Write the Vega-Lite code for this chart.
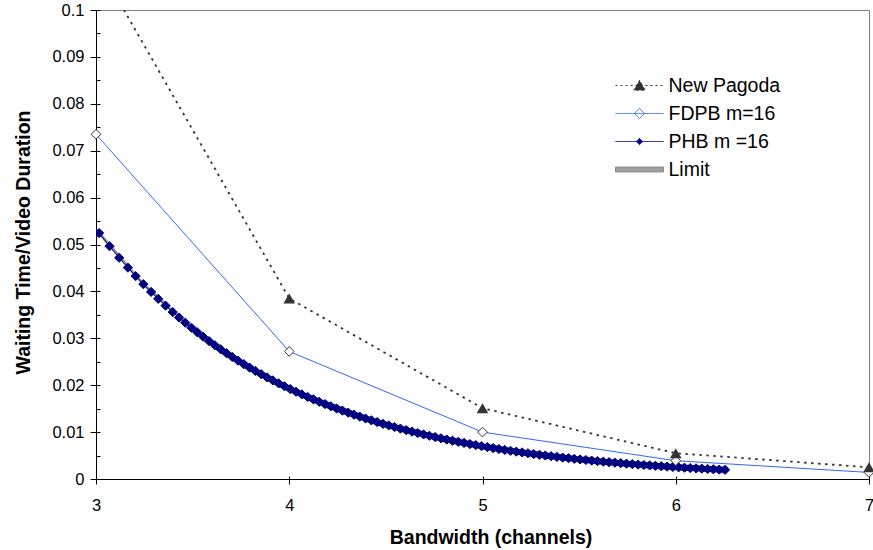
{
  "$schema": "https://vega.github.io/schema/vega-lite/v6.json",
  "width": 773,
  "height": 469,
  "padding": {"left": 96, "top": 10, "right": 4, "bottom": 71},
  "autosize": {"type": "none"},
  "background": "white",
  "config": {
    "view": {"stroke": "#808080", "strokeWidth": 1},
    "font": "Liberation Sans",
    "axis": {"labelFont": "Liberation Sans", "titleFont": "Liberation Sans", "labelColor": "black", "titleColor": "black", "domainColor": "black", "tickColor": "black", "grid": false, "labelFlush": false, "labelOverlap": false}
  },
  "data": {"values": [
    {"series": "FDPB m=16", "x": 3, "y": 0.0735},
    {"series": "FDPB m=16", "x": 4, "y": 0.0272},
    {"series": "FDPB m=16", "x": 5, "y": 0.0100},
    {"series": "FDPB m=16", "x": 6, "y": 0.0039},
    {"series": "FDPB m=16", "x": 7, "y": 0.0014},
    {"series": "New Pagoda", "x": 3, "y": 0.1104},
    {"series": "New Pagoda", "x": 4, "y": 0.0385},
    {"series": "New Pagoda", "x": 5, "y": 0.0151},
    {"series": "New Pagoda", "x": 6, "y": 0.0055},
    {"series": "New Pagoda", "x": 7, "y": 0.0025},
    {"series": "Limit", "x": 3.016, "y": 0.05244},
    {"series": "Limit", "x": 3.245, "y": 0.04154},
    {"series": "Limit", "x": 3.494, "y": 0.03225},
    {"series": "Limit", "x": 3.765, "y": 0.024483},
    {"series": "Limit", "x": 4.005, "y": 0.01918},
    {"series": "Limit", "x": 4.515, "y": 0.011418},
    {"series": "Limit", "x": 5.025, "y": 0.006797},
    {"series": "Limit", "x": 5.505, "y": 0.004173},
    {"series": "Limit", "x": 6.015, "y": 0.002485},
    {"series": "Limit", "x": 6.255, "y": 0.001947},
    {"series": "PHB m =16", "x": 3.016, "y": 0.05244},
    {"series": "PHB m =16", "x": 3.07, "y": 0.04964},
    {"series": "PHB m =16", "x": 3.12, "y": 0.04718},
    {"series": "PHB m =16", "x": 3.165, "y": 0.04507},
    {"series": "PHB m =16", "x": 3.205, "y": 0.04327},
    {"series": "PHB m =16", "x": 3.245, "y": 0.04154},
    {"series": "PHB m =16", "x": 3.285, "y": 0.03989},
    {"series": "PHB m =16", "x": 3.322, "y": 0.03842},
    {"series": "PHB m =16", "x": 3.36, "y": 0.03696},
    {"series": "PHB m =16", "x": 3.397, "y": 0.03559},
    {"series": "PHB m =16", "x": 3.43, "y": 0.03442},
    {"series": "PHB m =16", "x": 3.462, "y": 0.03332},
    {"series": "PHB m =16", "x": 3.494, "y": 0.03225},
    {"series": "PHB m =16", "x": 3.524, "y": 0.03128},
    {"series": "PHB m =16", "x": 3.554, "y": 0.03034},
    {"series": "PHB m =16", "x": 3.585, "y": 0.0294},
    {"series": "PHB m =16", "x": 3.615, "y": 0.028517},
    {"series": "PHB m =16", "x": 3.645, "y": 0.02766},
    {"series": "PHB m =16", "x": 3.675, "y": 0.026829},
    {"series": "PHB m =16", "x": 3.705, "y": 0.026023},
    {"series": "PHB m =16", "x": 3.735, "y": 0.025241},
    {"series": "PHB m =16", "x": 3.765, "y": 0.024483},
    {"series": "PHB m =16", "x": 3.795, "y": 0.023747},
    {"series": "PHB m =16", "x": 3.825, "y": 0.023033},
    {"series": "PHB m =16", "x": 3.855, "y": 0.022341},
    {"series": "PHB m =16", "x": 3.885, "y": 0.02167},
    {"series": "PHB m =16", "x": 3.915, "y": 0.021019},
    {"series": "PHB m =16", "x": 3.945, "y": 0.020387},
    {"series": "PHB m =16", "x": 3.975, "y": 0.019774},
    {"series": "PHB m =16", "x": 4.005, "y": 0.01918},
    {"series": "PHB m =16", "x": 4.035, "y": 0.018604},
    {"series": "PHB m =16", "x": 4.065, "y": 0.018045},
    {"series": "PHB m =16", "x": 4.095, "y": 0.017503},
    {"series": "PHB m =16", "x": 4.125, "y": 0.016977},
    {"series": "PHB m =16", "x": 4.155, "y": 0.016467},
    {"series": "PHB m =16", "x": 4.185, "y": 0.015972},
    {"series": "PHB m =16", "x": 4.215, "y": 0.015492},
    {"series": "PHB m =16", "x": 4.245, "y": 0.015026},
    {"series": "PHB m =16", "x": 4.275, "y": 0.014574},
    {"series": "PHB m =16", "x": 4.305, "y": 0.014136},
    {"series": "PHB m =16", "x": 4.335, "y": 0.013711},
    {"series": "PHB m =16", "x": 4.365, "y": 0.013299},
    {"series": "PHB m =16", "x": 4.395, "y": 0.012899},
    {"series": "PHB m =16", "x": 4.425, "y": 0.012511},
    {"series": "PHB m =16", "x": 4.455, "y": 0.012135},
    {"series": "PHB m =16", "x": 4.485, "y": 0.01177},
    {"series": "PHB m =16", "x": 4.515, "y": 0.011418},
    {"series": "PHB m =16", "x": 4.545, "y": 0.011075},
    {"series": "PHB m =16", "x": 4.575, "y": 0.010742},
    {"series": "PHB m =16", "x": 4.605, "y": 0.010419},
    {"series": "PHB m =16", "x": 4.635, "y": 0.010106},
    {"series": "PHB m =16", "x": 4.665, "y": 0.009802},
    {"series": "PHB m =16", "x": 4.695, "y": 0.009507},
    {"series": "PHB m =16", "x": 4.725, "y": 0.009221},
    {"series": "PHB m =16", "x": 4.755, "y": 0.008944},
    {"series": "PHB m =16", "x": 4.785, "y": 0.008675},
    {"series": "PHB m =16", "x": 4.815, "y": 0.008416},
    {"series": "PHB m =16", "x": 4.845, "y": 0.008163},
    {"series": "PHB m =16", "x": 4.875, "y": 0.007918},
    {"series": "PHB m =16", "x": 4.905, "y": 0.00768},
    {"series": "PHB m =16", "x": 4.935, "y": 0.007449},
    {"series": "PHB m =16", "x": 4.965, "y": 0.007225},
    {"series": "PHB m =16", "x": 4.995, "y": 0.007008},
    {"series": "PHB m =16", "x": 5.025, "y": 0.006797},
    {"series": "PHB m =16", "x": 5.055, "y": 0.006593},
    {"series": "PHB m =16", "x": 5.085, "y": 0.006395},
    {"series": "PHB m =16", "x": 5.115, "y": 0.006203},
    {"series": "PHB m =16", "x": 5.145, "y": 0.006017},
    {"series": "PHB m =16", "x": 5.175, "y": 0.005836},
    {"series": "PHB m =16", "x": 5.205, "y": 0.005661},
    {"series": "PHB m =16", "x": 5.235, "y": 0.005491},
    {"series": "PHB m =16", "x": 5.265, "y": 0.005326},
    {"series": "PHB m =16", "x": 5.295, "y": 0.005166},
    {"series": "PHB m =16", "x": 5.325, "y": 0.005011},
    {"series": "PHB m =16", "x": 5.355, "y": 0.00486},
    {"series": "PHB m =16", "x": 5.385, "y": 0.004714},
    {"series": "PHB m =16", "x": 5.415, "y": 0.004572},
    {"series": "PHB m =16", "x": 5.445, "y": 0.004435},
    {"series": "PHB m =16", "x": 5.475, "y": 0.004302},
    {"series": "PHB m =16", "x": 5.505, "y": 0.004173},
    {"series": "PHB m =16", "x": 5.535, "y": 0.004048},
    {"series": "PHB m =16", "x": 5.565, "y": 0.003926},
    {"series": "PHB m =16", "x": 5.595, "y": 0.003808},
    {"series": "PHB m =16", "x": 5.625, "y": 0.003694},
    {"series": "PHB m =16", "x": 5.655, "y": 0.003583},
    {"series": "PHB m =16", "x": 5.685, "y": 0.003475},
    {"series": "PHB m =16", "x": 5.715, "y": 0.00337},
    {"series": "PHB m =16", "x": 5.745, "y": 0.003269},
    {"series": "PHB m =16", "x": 5.775, "y": 0.003171},
    {"series": "PHB m =16", "x": 5.805, "y": 0.003076},
    {"series": "PHB m =16", "x": 5.835, "y": 0.002984},
    {"series": "PHB m =16", "x": 5.865, "y": 0.002894},
    {"series": "PHB m =16", "x": 5.895, "y": 0.002807},
    {"series": "PHB m =16", "x": 5.925, "y": 0.002723},
    {"series": "PHB m =16", "x": 5.955, "y": 0.002641},
    {"series": "PHB m =16", "x": 5.985, "y": 0.002562},
    {"series": "PHB m =16", "x": 6.015, "y": 0.002485},
    {"series": "PHB m =16", "x": 6.045, "y": 0.002409},
    {"series": "PHB m =16", "x": 6.075, "y": 0.002337},
    {"series": "PHB m =16", "x": 6.105, "y": 0.002267},
    {"series": "PHB m =16", "x": 6.135, "y": 0.002199},
    {"series": "PHB m =16", "x": 6.165, "y": 0.002133},
    {"series": "PHB m =16", "x": 6.195, "y": 0.002069},
    {"series": "PHB m =16", "x": 6.225, "y": 0.002007},
    {"series": "PHB m =16", "x": 6.255, "y": 0.001947}
  ]},
  "resolve": {"axis": {"x": "independent", "y": "independent"}},
  "layer": [
    {
      "transform": [{"filter": "datum.series == 'Limit'"}],
      "mark": {"type": "line", "color": "#999999", "strokeWidth": 3, "clip": true},
      "encoding": {
        "x": {"field": "x", "type": "quantitative", "scale": {"domain": [3, 7], "nice": false, "zero": false},
          "axis": {"orient": "bottom", "values": [3, 4, 5, 6, 7], "format": "d", "tickSize": 5, "tickWidth": 1, "domainWidth": 1, "labelFontSize": 16.5, "labelPadding": 13,
            "title": "Bandwidth (channels)", "titleFontSize": 19.5, "titleFontWeight": "bold", "titleX": 394.5, "titleY": 64, "titleAlign": "center", "titleBaseline": "alphabetic"}},
        "y": {"field": "y", "type": "quantitative", "scale": {"domain": [0, 0.1], "nice": false, "zero": false},
          "axis": {"orient": "left", "values": [0, 0.01, 0.02, 0.03, 0.04, 0.05, 0.06, 0.07, 0.08, 0.09, 0.1], "format": "~g", "tickSize": 6, "tickWidth": 1, "domainWidth": 1, "labelFontSize": 16.5, "labelPadding": 6,
            "title": "Waiting Time/Video Duration", "titleFontSize": 19.5, "titleFontWeight": "bold", "titleAngle": -90, "titleX": -67, "titleY": 232, "titleAlign": "center", "titleBaseline": "alphabetic"}}
      }
    },
    {
      "transform": [{"filter": "datum.series == 'PHB m =16'"}],
      "mark": {"type": "line", "color": "#000080", "strokeWidth": 1, "clip": true},
      "encoding": {
        "x": {"field": "x", "type": "quantitative", "scale": {"domain": [3, 7], "nice": false, "zero": false},
          "axis": {"orient": "bottom", "values": [3, 4, 5, 6, 7], "tickSize": -3, "labels": false, "domain": false, "title": null}},
        "y": {"field": "y", "type": "quantitative", "scale": {"domain": [0, 0.1], "nice": false, "zero": false},
          "axis": {"orient": "left", "values": [0, 0.005, 0.01, 0.015, 0.02, 0.025, 0.03, 0.035, 0.04, 0.045, 0.05, 0.055, 0.06, 0.065, 0.07, 0.075, 0.08, 0.085, 0.09, 0.095, 0.1], "tickSize": -4, "labels": false, "domain": false, "title": null}}
      }
    },
    {
      "transform": [{"filter": "datum.series == 'PHB m =16' && datum.x >= 3.6"}],
      "mark": {"type": "line", "color": "#000080", "strokeWidth": 6, "strokeCap": "round", "clip": true},
      "encoding": {
        "x": {"field": "x", "type": "quantitative", "scale": {"domain": [3, 7], "nice": false, "zero": false}, "axis": null},
        "y": {"field": "y", "type": "quantitative", "scale": {"domain": [0, 0.1], "nice": false, "zero": false}, "axis": null}
      }
    },
    {
      "transform": [{"filter": "datum.series == 'PHB m =16'"}],
      "mark": {"type": "point", "shape": "diamond", "filled": true, "fill": "#000080", "stroke": "#000080", "strokeWidth": 1, "opacity": 1, "size": 85, "clip": true},
      "encoding": {
        "x": {"field": "x", "type": "quantitative", "scale": {"domain": [3, 7], "nice": false, "zero": false}, "axis": null},
        "y": {"field": "y", "type": "quantitative", "scale": {"domain": [0, 0.1], "nice": false, "zero": false}, "axis": null}
      }
    },
    {
      "transform": [{"filter": "datum.series == 'FDPB m=16'"}],
      "mark": {"type": "line", "color": "#3366ff", "strokeWidth": 1, "clip": true},
      "encoding": {
        "x": {"field": "x", "type": "quantitative", "scale": {"domain": [3, 7], "nice": false, "zero": false}, "axis": null},
        "y": {"field": "y", "type": "quantitative", "scale": {"domain": [0, 0.1], "nice": false, "zero": false}, "axis": null}
      }
    },
    {
      "transform": [{"filter": "datum.series == 'FDPB m=16'"}],
      "mark": {"type": "point", "shape": "diamond", "filled": true, "fill": "white", "stroke": "#333333", "strokeWidth": 1, "opacity": 1, "size": 95},
      "encoding": {
        "x": {"field": "x", "type": "quantitative", "scale": {"domain": [3, 7], "nice": false, "zero": false}, "axis": null},
        "y": {"field": "y", "type": "quantitative", "scale": {"domain": [0, 0.1], "nice": false, "zero": false}, "axis": null}
      }
    },
    {
      "transform": [{"filter": "datum.series == 'New Pagoda'"}],
      "mark": {"type": "line", "color": "#333333", "strokeWidth": 1.8, "strokeDash": [2.5, 4.5], "clip": true},
      "encoding": {
        "x": {"field": "x", "type": "quantitative", "scale": {"domain": [3, 7], "nice": false, "zero": false}, "axis": null},
        "y": {"field": "y", "type": "quantitative", "scale": {"domain": [0, 0.1], "nice": false, "zero": false}, "axis": null}
      }
    },
    {
      "transform": [{"filter": "datum.series == 'New Pagoda' && datum.y <= 0.1"}],
      "mark": {"type": "point", "shape": "triangle-up", "filled": true, "color": "#333333", "opacity": 1, "size": 135},
      "encoding": {
        "x": {"field": "x", "type": "quantitative", "scale": {"domain": [3, 7], "nice": false, "zero": false}, "axis": null},
        "y": {"field": "y", "type": "quantitative", "scale": {"domain": [0, 0.1], "nice": false, "zero": false}, "axis": null}
      }
    },
    {
      "transform": [{"filter": "datum.series == 'none'"}],
      "mark": {"type": "point", "filled": true, "opacity": 1, "size": 2304, "strokeWidth": 1},
      "encoding": {
        "shape": {"field": "series", "type": "nominal",
          "scale": {"domain": ["New Pagoda", "FDPB m=16", "PHB m =16", "Limit"],
            "range": ["M-1,0H1M-0.24,0.2L0,-0.22L0.24,0.2Z", "M-1,0H1M-0.21,0L0,-0.21L0.21,0L0,0.21Z", "M-1,0H1M-0.13,0L0,-0.13L0.13,0L0,0.13Z", "M-1,-0.105H1V0.105H-1Z"]},
          "legend": {"title": null, "orient": "none", "legendX": 519, "legendY": 65.5, "symbolSize": 2304, "symbolStrokeWidth": 1, "clipHeight": 20, "rowPadding": 8, "labelFontSize": 19.5, "labelFont": "Liberation Sans", "labelColor": "black", "labelOffset": 4.5, "padding": 0, "labelLimit": 300, "symbolOpacity": 1}},
        "fill": {"field": "series", "type": "nominal",
          "scale": {"domain": ["New Pagoda", "FDPB m=16", "PHB m =16", "Limit"], "range": ["#333333", "#ffffff", "#000080", "#a0a0a0"]},
          "legend": {"title": null, "orient": "none", "legendX": 519, "legendY": 65.5, "symbolSize": 2304, "symbolStrokeWidth": 1, "clipHeight": 20, "rowPadding": 8, "labelFontSize": 19.5, "labelFont": "Liberation Sans", "labelColor": "black", "labelOffset": 4.5, "padding": 0, "labelLimit": 300, "symbolOpacity": 1}},
        "stroke": {"field": "series", "type": "nominal",
          "scale": {"domain": ["New Pagoda", "FDPB m=16", "PHB m =16", "Limit"], "range": ["#333333", "#3366ff", "#000080", "#8a8a8a"]},
          "legend": {"title": null, "orient": "none", "legendX": 519, "legendY": 65.5, "symbolSize": 2304, "symbolStrokeWidth": 1, "clipHeight": 20, "rowPadding": 8, "labelFontSize": 19.5, "labelFont": "Liberation Sans", "labelColor": "black", "labelOffset": 4.5, "padding": 0, "labelLimit": 300, "symbolOpacity": 1}},
        "strokeDash": {"field": "series", "type": "nominal",
          "scale": {"domain": ["New Pagoda", "FDPB m=16", "PHB m =16", "Limit"], "range": [[2, 3], [1, 0], [1, 0], [1, 0]]},
          "legend": {"title": null, "orient": "none", "legendX": 519, "legendY": 65.5, "symbolSize": 2304, "symbolStrokeWidth": 1, "clipHeight": 20, "rowPadding": 8, "labelFontSize": 19.5, "labelFont": "Liberation Sans", "labelColor": "black", "labelOffset": 4.5, "padding": 0, "labelLimit": 300, "symbolOpacity": 1}}
      }
    }
  ]
}
